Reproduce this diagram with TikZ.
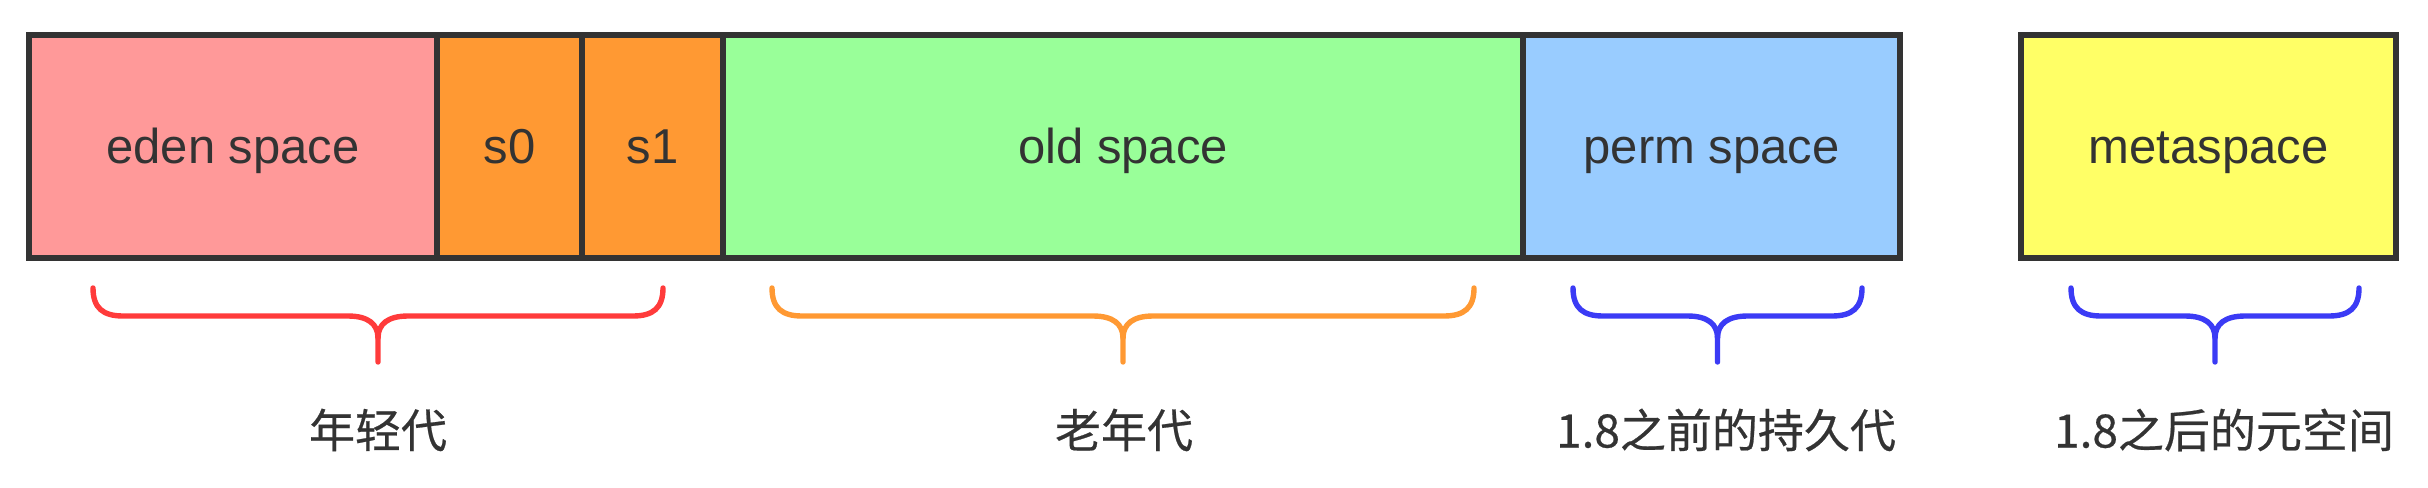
\documentclass[tikz,border=0pt]{standalone}
\usepackage{fontspec}
\setmainfont{Liberation Sans}
\newfontfamily\cjk[FakeBold=0.5]{Noto Sans CJK SC}
\definecolor{edenc}{HTML}{FF9999}
\definecolor{survc}{HTML}{FF9933}
\definecolor{oldc}{HTML}{99FF99}
\definecolor{permc}{HTML}{99CCFF}
\definecolor{metac}{HTML}{FFFF66}
\definecolor{edgec}{HTML}{333333}
\definecolor{txtc}{HTML}{333333}
\definecolor{bred}{HTML}{FF3B3B}
\definecolor{borange}{HTML}{FF9933}
\definecolor{bblue}{HTML}{3B3BF5}
\tikzset{
  membox/.style={draw=edgec, line width=2.6pt, rectangle, inner sep=0pt, outer sep=0pt,
    minimum height=111.5pt, text=txtc, text height=17.5pt, text depth=1pt,
    font=\fontsize{24.5}{29}\selectfont},
  genlabel/.style={text=txtc, inner sep=0pt, font=\cjk\fontsize{23}{28}\selectfont},
  bracestyle/.style={line width=2.7pt, line cap=round, line join=round},
}
\begin{document}
\begin{tikzpicture}[x=0.5pt, y=-0.5pt]
\useasboundingbox (0,0) rectangle (2428,487);
% memory regions
\node[membox, fill=edenc, minimum width=204pt] (eden) at (233,146.5) {eden space};
\node[membox, fill=survc, minimum width=72.5pt] (s0) at (509.5,146.5) {s0};
\node[membox, fill=survc, minimum width=70.5pt] (s1) at (652.5,146.5) {s1};
\node[membox, fill=oldc, minimum width=400pt] (old) at (1123,146.5) {old space};
\node[membox, fill=permc, minimum width=188.5pt] (perm) at (1711.5,146.5) {perm space};
\node[membox, fill=metac, minimum width=187.5pt] (meta) at (2208.5,146.5) {metaspace};
% braces
\foreach \l/\r/\c in {93/663/bred, 772/1474/borange, 1573/1862/bblue, 2071/2359/bblue}{
  \pgfmathsetmacro{\m}{(\l+\r)/2}
  \draw[bracestyle, draw=\c] (\l,288) .. controls (\l,308) and (\l+10,316) .. (\l+30,316)
     -- (\m-30,316) .. controls (\m-10,316) and (\m,324) .. (\m,338) -- (\m,362);
  \draw[bracestyle, draw=\c] (\r,288) .. controls (\r,308) and (\r-10,316) .. (\r-30,316)
     -- (\m+30,316) .. controls (\m+10,316) and (\m,324) .. (\m,338);
}
% labels
\node[genlabel] (young) at (378,430) {年轻代};
\node[genlabel] (tenured) at (1124,430) {老年代};
\node[genlabel] (permlbl) at (1726,430) {1.8之前的持久代};
\node[genlabel] (metalbl) at (2224,430) {1.8之后的元空间};
\end{tikzpicture}
\end{document}
